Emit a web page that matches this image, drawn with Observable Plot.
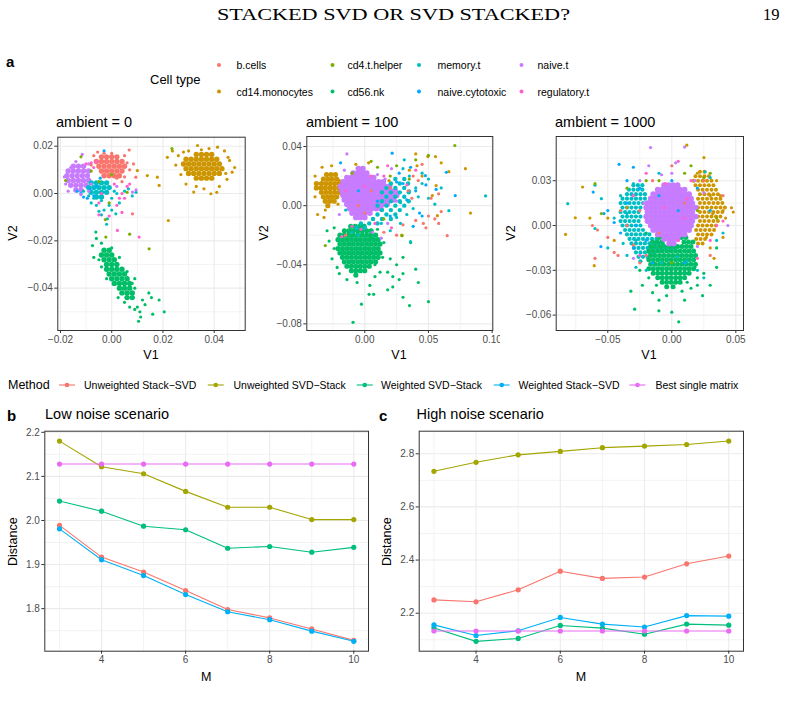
<!DOCTYPE html>
<html><head><meta charset="utf-8">
<script src="https://cdn.jsdelivr.net/npm/d3@7"></script>
<script src="https://cdn.jsdelivr.net/npm/@observablehq/plot@0.6"></script>
<style>
body{margin:0;background:#fff;}
#page{position:relative;width:788px;height:701px;overflow:hidden;background:#fff;}
</style></head><body><div id="page"></div>
<script>
// ---------- categories & colours ----------
const cellTypes = ["b.cells","cd14.monocytes","cd4.t.helper","cd56.nk","memory.t","naive.cytotoxic","naive.t","regulatory.t"];
const cellColors = ["#F8766D","#CD9600","#7CAE00","#00BE67","#00BFC4","#00A9FF","#C77CFF","#FF61CC"];
const methods = ["Unweighted Stack−SVD","Unweighted SVD−Stack","Weighted SVD−Stack","Weighted Stack−SVD","Best single matrix"];
const methodColors = ["#F8766D","#A3A500","#00BF7D","#00B0F6","#E76BF3"];
const panelTitles = ["ambient = 0","ambient = 100","ambient = 1000"];

// ---------- panel b / c values ----------
const M = [3,4,5,6,7,8,9,10];
const lowUnwStackSVD = [1.989,1.917,1.883,1.841,1.798,1.779,1.754,1.728];
const lowUnwSVDStack = [2.180,2.122,2.106,2.066,2.030,2.030,2.002,2.002];
const lowWSVDStack   = [2.044,2.021,1.987,1.979,1.937,1.941,1.928,1.939];
const lowWStackSVD   = [1.981,1.911,1.875,1.832,1.793,1.775,1.749,1.726];
const lowBest        = [2.128,2.128,2.128,2.128,2.128,2.128,2.128,2.128];
const highUnwStackSVD = [2.250,2.243,2.288,2.358,2.331,2.336,2.386,2.415];
const highUnwSVDStack = [2.734,2.768,2.796,2.809,2.823,2.829,2.835,2.848];
const highWSVDStack   = [2.144,2.094,2.105,2.154,2.144,2.121,2.159,2.155];
const highWStackSVD   = [2.156,2.116,2.134,2.184,2.159,2.148,2.191,2.189];
const highBest        = [2.133,2.133,2.133,2.133,2.133,2.133,2.133,2.133];

// ---------- tick labels ----------
const amb0XTicks = [-0.02,0,0.02,0.04], amb0XMinor = [-0.01,0.01,0.03,0.05];
const amb0YTicks = [0.02,0,-0.02,-0.04], amb0YMinor = [0.01,-0.01,-0.03,-0.05];
const amb100XTicks = [0,0.05,0.10], amb100XMinor = [-0.025,0.025,0.075];
const amb100YTicks = [0.04,0,-0.04,-0.08], amb100YMinor = [0.02,-0.02,-0.06];
const amb1000XTicks = [-0.05,0,0.05], amb1000XMinor = [-0.075,-0.025,0.025];
const amb1000YTicks = [0.03,0,-0.03,-0.06], amb1000YMinor = [0.045,0.015,-0.015,-0.045];
const mTicks = [4,6,8,10], mMinor = [3,5,7,9];
const lowYTicks = [1.8,1.9,2.0,2.1,2.2], lowYMinor = [1.75,1.85,1.95,2.05,2.15];
const highYTicks = [2.2,2.4,2.6,2.8], highYMinor = [2.1,2.3,2.5,2.7];

// ---------- scatter values ----------
// dense cloud cores, one row per V2 value: [cell type, V2, [V1 ...]]
const amb0CoreRows = [
 ["cd56.nk",-0.024,[-0.003,-0.001]],
 ["cd56.nk",-0.026,[-0.004,-0.002,0.000]],
 ["cd56.nk",-0.028,[-0.003,-0.001,0.001]],
 ["cd56.nk",-0.030,[-0.002,0.000,0.002]],
 ["cd56.nk",-0.032,[-0.002,0.000,0.002,0.004]],
 ["cd56.nk",-0.034,[-0.001,0.001,0.003,0.005]],
 ["cd56.nk",-0.036,[0.000,0.002,0.004,0.006]],
 ["cd56.nk",-0.038,[0.001,0.003,0.005,0.007]],
 ["cd56.nk",-0.040,[0.003,0.005,0.007]],
 ["cd56.nk",-0.042,[0.004,0.006,0.008]],
 ["cd56.nk",-0.044,[0.006,0.008]],
 ["cd14.monocytes",0.0165,[0.033,0.035,0.037,0.039]],
 ["cd14.monocytes",0.0145,[0.029,0.031,0.033,0.035,0.037,0.039,0.041]],
 ["cd14.monocytes",0.0125,[0.028,0.030,0.032,0.034,0.036,0.038,0.040,0.042]],
 ["cd14.monocytes",0.0105,[0.029,0.031,0.033,0.035,0.037,0.039,0.041,0.043]],
 ["cd14.monocytes",0.0085,[0.030,0.032,0.034,0.036,0.038,0.040,0.042]],
 ["cd14.monocytes",0.0065,[0.033,0.035,0.037,0.039]],
 ["naive.t",0.0115,[-0.015,-0.013,-0.011]],
 ["naive.t",0.0095,[-0.017,-0.015,-0.013,-0.011,-0.009]],
 ["naive.t",0.0075,[-0.0175,-0.0155,-0.0135,-0.0115,-0.0095]],
 ["naive.t",0.0055,[-0.017,-0.015,-0.013,-0.011,-0.009]],
 ["naive.t",0.0035,[-0.016,-0.014,-0.012,-0.010]],
 ["naive.t",0.0015,[-0.014,-0.012]],
 ["b.cells",0.0155,[-0.004,-0.002,0.000,0.002]],
 ["b.cells",0.0135,[-0.006,-0.004,-0.002,0.000,0.002,0.004]],
 ["b.cells",0.0115,[-0.005,-0.003,-0.001,0.001,0.003,0.005]],
 ["b.cells",0.0095,[-0.004,-0.002,0.000,0.002,0.004]],
 ["b.cells",0.0075,[-0.003,-0.001,0.001,0.003]],
 ["memory.t",0.0045,[-0.008,-0.006,-0.004,-0.002]],
 ["memory.t",0.0025,[-0.009,-0.007,-0.005,-0.003,-0.001]],
 ["memory.t",0.0005,[-0.008,-0.006,-0.004,-0.002]],
 ["memory.t",-0.0015,[-0.006,-0.004]]
];
// sparse points: [cell type, [[V1, V2] ...]]
const amb0Pts = [
 ["cd56.nk", [[-0.0062,-0.0163],[-0.0075,-0.022],[-0.006,-0.019],[-0.007,-0.027],[-0.004,-0.021],[0.0,-0.023],[0.003,-0.027],[0.006,-0.033],[0.009,-0.036],[0.009,-0.040],[0.0113,-0.0522],[0.010,-0.048],[0.012,-0.045],[0.0145,-0.042],[0.0155,-0.044],[0.0185,-0.045],[0.0205,-0.050],[0.016,-0.051],[0.011,-0.050],[0.009,-0.049],[0.007,-0.048],[0.0105,-0.054],[-0.002,-0.036],[-0.004,-0.031],[0.0025,-0.044],[0.005,-0.046],[0.013,-0.047],[-0.005,-0.028],[0.008,-0.038]]],
 ["cd14.monocytes", [[0.0217,0.0153],[0.0237,0.018],[0.048,0.011],[0.0139,0.0076],[0.0178,0.0069],[0.0185,0.0034],[0.010,0.0097],[0.0221,-0.0114],[0.032,0.0006],[0.0387,-0.0001],[0.0454,0.0153],[0.0413,0.0196],[0.0335,0.0203],[0.026,0.016],[0.027,0.008],[0.029,0.004],[0.036,0.002],[0.045,0.006],[0.046,0.014],[0.044,0.018],[0.038,0.019],[0.030,0.018],[0.025,0.012],[0.042,0.003],[0.033,0.003],[0.047,0.009],[0.041,0.0005],[0.028,0.0175],[0.0445,0.0085],[0.035,0.0185]]],
 ["memory.t", [[-0.0017,-0.0107],[0.0016,-0.0086],[-0.003,-0.007],[-0.006,-0.005],[-0.008,-0.004],[-0.004,-0.003],[0.0,-0.002],[0.002,0.000],[0.005,0.001],[0.008,-0.001],[0.0095,0.0005],[-0.001,-0.005],[-0.004,-0.009],[-0.002,-0.013],[0.0,-0.007],[0.003,-0.004],[-0.007,-0.002],[-0.009,-0.001],[-0.011,0.001],[0.001,0.001],[0.0065,0.002],[-0.005,-0.0075]]],
 ["naive.cytotoxic", [[-0.012,0.0],[-0.011,-0.0015],[-0.007,-0.001],[-0.0085,0.002],[-0.006,0.003],[-0.0045,0.0065],[-0.003,0.018],[-0.0095,-0.002],[-0.0135,0.001]]],
 ["naive.t", [[-0.0115,0.0165],[0.0081,0.0006],[0.0095,0.0015],[-0.018,0.004],[-0.017,0.001],[-0.009,0.0125],[-0.008,0.004],[-0.012,-0.0005],[-0.009,0.001],[-0.016,0.011],[0.002,0.003],[-0.0185,0.007],[-0.014,0.0135]]],
 ["b.cells", [[0.0068,0.0184],[0.0094,0.0069],[0.0081,-0.0086],[0.005,0.016],[-0.007,0.016],[0.006,0.013],[0.005,0.007],[0.004,0.005],[-0.003,0.017],[0.0,0.017],[0.007,0.010],[-0.008,0.012],[0.002,0.0065],[-0.0055,0.0175],[0.0085,0.0125]]],
 ["regulatory.t", [[-0.008,0.013],[-0.007,0.011],[-0.010,0.0125],[-0.006,0.0135],[0.003,-0.002],[0.004,0.000],[0.0022,-0.0156],[0.0107,-0.0184],[-0.005,-0.004],[-0.005,-0.009],[0.002,-0.005],[0.006,0.003],[0.001,0.004],[-0.004,0.0],[0.005,-0.002],[0.007,0.004],[-0.001,-0.0095],[0.004,-0.008]]],
 ["cd4.t.helper", [[-0.018,0.0055],[0.0146,-0.0234],[-0.0023,-0.0184],[-0.0025,-0.011],[-0.012,0.0155],[0.0235,0.019],[-0.005,0.005],[0.0,0.008],[-0.001,-0.004],[0.006,0.0005],[-0.008,0.0095],[0.007,-0.0172]]]
];
const amb100CoreRows = [
 ["cd56.nk",-0.014,[-0.011,-0.0075,-0.004,-0.0005]],
 ["cd56.nk",-0.017,[-0.016,-0.0125,-0.009,-0.0055,-0.002,0.0015,0.005]],
 ["cd56.nk",-0.020,[-0.0195,-0.016,-0.0125,-0.009,-0.0055,-0.002,0.0015,0.005,0.0085]],
 ["cd56.nk",-0.023,[-0.021,-0.0175,-0.014,-0.0105,-0.007,-0.0035,0.0,0.0035,0.007,0.0105]],
 ["cd56.nk",-0.026,[-0.0195,-0.016,-0.0125,-0.009,-0.0055,-0.002,0.0015,0.005,0.0085,0.012]],
 ["cd56.nk",-0.029,[-0.021,-0.0175,-0.014,-0.0105,-0.007,-0.0035,0.0,0.0035,0.007,0.0105]],
 ["cd56.nk",-0.032,[-0.0195,-0.016,-0.0125,-0.009,-0.0055,-0.002,0.0015,0.005,0.0085,0.012]],
 ["cd56.nk",-0.035,[-0.0175,-0.014,-0.0105,-0.007,-0.0035,0.0,0.0035,0.007,0.0105]],
 ["cd56.nk",-0.038,[-0.016,-0.0125,-0.009,-0.0055,-0.002,0.0015,0.005,0.0085]],
 ["cd56.nk",-0.041,[-0.014,-0.0105,-0.007,-0.0035,0.0,0.0035]],
 ["cd56.nk",-0.044,[-0.0105,-0.007,-0.0035,0.0]],
 ["cd56.nk",-0.047,[-0.007]],
 ["cd14.monocytes",0.021,[-0.030,-0.0265,-0.023]],
 ["cd14.monocytes",0.018,[-0.0325,-0.029,-0.0255,-0.022]],
 ["cd14.monocytes",0.015,[-0.038,-0.034,-0.0305,-0.027,-0.0235,-0.020]],
 ["cd14.monocytes",0.012,[-0.038,-0.0345,-0.031,-0.0275,-0.024,-0.0205]],
 ["cd14.monocytes",0.009,[-0.034,-0.0305,-0.027,-0.0235,-0.020]],
 ["cd14.monocytes",0.006,[-0.0325,-0.029,-0.0255,-0.022]],
 ["cd14.monocytes",0.003,[-0.031,-0.0275,-0.024]],
 ["cd14.monocytes",0.000,[-0.029]],
 ["naive.t",0.025,[-0.005,-0.0015]],
 ["naive.t",0.022,[-0.009,-0.0055,-0.002,0.0015]],
 ["naive.t",0.019,[-0.014,-0.0105,-0.007,-0.0035,0.0,0.0035,0.007]],
 ["naive.t",0.016,[-0.017,-0.0135,-0.010,-0.0065,-0.003,0.0005,0.004,0.0075,0.011,0.0145]],
 ["naive.t",0.013,[-0.019,-0.0155,-0.012,-0.0085,-0.005,-0.0015,0.002,0.0055,0.009,0.0125,0.016,0.0195]],
 ["naive.t",0.010,[-0.018,-0.0145,-0.011,-0.0075,-0.004,-0.0005,0.003,0.0065,0.010,0.0135,0.017,0.0205,0.024]],
 ["naive.t",0.007,[-0.017,-0.0135,-0.010,-0.0065,-0.003,0.0005,0.004,0.0075,0.011,0.0145,0.018,0.0215,0.025]],
 ["naive.t",0.004,[-0.016,-0.0125,-0.009,-0.0055,-0.002,0.0015,0.005,0.0085,0.012,0.0155,0.019,0.0225]],
 ["naive.t",0.001,[-0.014,-0.0105,-0.007,-0.0035,0.0,0.0035,0.007,0.0105,0.014,0.0175]],
 ["naive.t",-0.002,[-0.012,-0.0085,-0.005,-0.0015,0.002,0.0055,0.009,0.0125]],
 ["naive.t",-0.005,[-0.010,-0.0065,-0.003,0.0005,0.004]],
 ["naive.t",-0.008,[-0.007,-0.0035,0.0]],
 ["memory.t",0.018,[0.024,0.031]],
 ["memory.t",0.015,[0.0205,0.0275,0.034]],
 ["memory.t",0.012,[0.017,0.024,0.031]],
 ["memory.t",0.009,[0.0135,0.0205,0.0275,0.0345]],
 ["memory.t",0.006,[0.017,0.024,0.031]],
 ["memory.t",0.003,[0.0135,0.0205,0.0275,0.0345]],
 ["memory.t",0.000,[0.010,0.017,0.024,0.031]],
 ["memory.t",-0.003,[0.0135,0.0205,0.0275]],
 ["memory.t",-0.006,[0.010,0.017,0.024]],
 ["memory.t",-0.009,[0.0065,0.0135,0.0205]],
 ["memory.t",-0.012,[-0.003,0.0035,0.010]],
 ["memory.t",-0.015,[-0.0065,0.0]]
];
const amb100Pts = [
 ["cd56.nk", [[-0.0296,-0.017],[-0.0257,-0.036],[-0.0217,-0.0418],[-0.024,-0.029],[0.008,-0.040],[0.014,-0.035],[0.018,-0.045],[0.022,-0.048],[0.027,-0.050],[0.022,-0.055],[0.018,-0.057],[0.030,-0.046],[0.040,-0.043],[0.042,-0.052],[0.050,-0.065],[0.0351,-0.0676],[0.030,-0.062],[0.007,-0.060],[0.0034,-0.060],[-0.0026,-0.0667],[-0.0092,-0.079],[-0.006,-0.052],[0.004,-0.054],[0.008,-0.048],[0.012,-0.045],[0.020,-0.036],[0.015,-0.025],[0.030,-0.035],[-0.020,-0.046],[-0.014,-0.050],[0.010,-0.016],[-0.024,-0.015],[0.036,-0.025],[-0.028,-0.024],[0.005,-0.022],[0.025,-0.040]]],
 ["cd14.monocytes", [[-0.039,0.020],[-0.037,-0.006],[-0.0335,0.026],[-0.026,0.027],[-0.031,-0.003],[0.079,0.025],[0.083,-0.005],[0.040,0.035],[0.0495,0.0332],[0.0555,0.0332],[0.060,0.029],[0.066,0.023],[0.056,0.0136],[0.053,0.0068],[0.041,0.027],[0.057,-0.0068],[0.029,-0.020],[0.003,0.029],[-0.007,0.028],[0.019,0.017],[-0.020,0.017],[-0.039,0.006],[-0.032,-0.008],[-0.036,0.015],[-0.021,0.001],[0.045,0.020],[0.035,0.024]]],
 ["memory.t", [[0.0948,0.0066],[0.045,0.022],[0.050,0.018],[0.040,0.012],[0.035,0.020],[0.030,0.025],[0.050,0.005],[0.055,0.001],[0.038,-0.002],[0.033,-0.006],[0.042,0.006],[0.060,0.012],[0.066,-0.0034],[0.028,-0.012],[0.0359,-0.0244],[0.020,-0.017],[0.025,-0.008],[0.0,-0.015],[-0.010,-0.018],[-0.015,-0.003],[0.013,-0.012],[0.045,0.015],[0.031,0.031],[0.028,0.002],[0.024,0.018],[0.035,0.010],[-0.005,-0.020]]],
 ["naive.cytotoxic", [[0.0215,0.0355],[0.036,0.026],[0.0476,0.0203],[0.071,0.0068],[0.048,0.014],[0.040,0.010],[0.043,-0.005],[0.056,0.011],[0.064,0.0226],[0.030,0.015],[0.020,-0.007],[0.033,0.004],[-0.019,0.029],[-0.005,0.010],[0.010,0.003],[0.025,0.016],[0.038,-0.014],[0.045,-0.007],[0.027,0.022]]],
 ["b.cells", [[0.040,-0.010],[0.046,-0.012],[0.050,-0.007],[0.055,-0.009],[0.048,-0.015],[0.0647,-0.0203],[0.052,0.005],[0.058,0.008],[0.042,0.017],[0.045,0.028],[0.030,-0.013],[0.025,-0.020],[-0.005,0.000],[0.005,0.010],[0.020,0.012],[0.034,0.010],[0.060,-0.004],[0.037,0.005],[-0.015,-0.020],[0.000,-0.005],[0.015,-0.018],[0.058,-0.012],[0.038,0.020]]],
 ["regulatory.t", [[-0.015,0.010],[-0.010,-0.014],[0.000,0.013],[0.015,0.020],[0.021,-0.015],[0.008,-0.012],[0.033,0.014],[0.040,0.024],[-0.018,-0.021],[0.018,0.027],[0.005,0.020],[-0.003,-0.016]]],
 ["cd4.t.helper", [[0.0707,0.0407],[0.050,0.034],[0.005,0.030],[0.010,0.026],[0.0293,-0.0203],[-0.031,-0.027],[-0.010,0.022],[0.025,0.027],[0.040,0.031],[0.020,0.020],[0.015,-0.009],[0.035,0.018]]],
 ["naive.t", [[-0.014,0.035],[-0.016,0.024],[0.018,-0.012],[0.013,-0.022],[0.021,0.025],[0.025,0.003],[-0.020,-0.006],[0.010,0.021],[0.016,0.018],[0.006,-0.018]]]
];
const amb1000CoreRows = [
 ["memory.t",0.027,[-0.030,-0.0265,-0.023]],
 ["memory.t",0.024,[-0.0335,-0.030,-0.0265,-0.023]],
 ["memory.t",0.021,[-0.035,-0.0315,-0.028,-0.0245,-0.021]],
 ["memory.t",0.018,[-0.0385,-0.035,-0.0315,-0.028,-0.0245,-0.021]],
 ["memory.t",0.015,[-0.040,-0.0365,-0.033,-0.0295,-0.026,-0.0225]],
 ["memory.t",0.012,[-0.0385,-0.035,-0.0315,-0.028,-0.0245]],
 ["memory.t",0.009,[-0.040,-0.0365,-0.033,-0.0295,-0.026]],
 ["memory.t",0.006,[-0.0385,-0.035,-0.0315,-0.028,-0.0245]],
 ["memory.t",0.003,[-0.040,-0.0365,-0.033,-0.0295,-0.026]],
 ["memory.t",0.000,[-0.0385,-0.035,-0.0315,-0.028,-0.0245]],
 ["memory.t",-0.003,[-0.0365,-0.033,-0.0295,-0.026,-0.0225]],
 ["memory.t",-0.006,[-0.035,-0.0315,-0.028,-0.0245,-0.021,-0.0175]],
 ["memory.t",-0.009,[-0.033,-0.0295,-0.026,-0.0225,-0.019,-0.0155,-0.012]],
 ["memory.t",-0.012,[-0.0315,-0.028,-0.0245,-0.021,-0.0175,-0.014,-0.0105,-0.007]],
 ["memory.t",-0.015,[-0.0295,-0.026,-0.0225,-0.019,-0.0155,-0.012,-0.0085,-0.005,-0.0015,0.002]],
 ["memory.t",-0.018,[-0.028,-0.0245,-0.021,-0.0175,-0.014]],
 ["memory.t",-0.021,[-0.026,-0.0225,-0.019]],
 ["memory.t",-0.024,[-0.0245]],
 ["cd14.monocytes",0.036,[0.022,0.0255]],
 ["cd14.monocytes",0.033,[0.0185,0.022,0.0255,0.029]],
 ["cd14.monocytes",0.030,[0.017,0.0205,0.024,0.0275,0.031]],
 ["cd14.monocytes",0.027,[0.0185,0.022,0.0255,0.029,0.0325]],
 ["cd14.monocytes",0.024,[0.0205,0.024,0.0275,0.031,0.0345]],
 ["cd14.monocytes",0.021,[0.022,0.0255,0.029,0.0325,0.036]],
 ["cd14.monocytes",0.018,[0.0205,0.024,0.0275,0.031,0.0345,0.038]],
 ["cd14.monocytes",0.015,[0.022,0.0255,0.029,0.0325,0.036,0.0395]],
 ["cd14.monocytes",0.012,[0.0205,0.024,0.0275,0.031,0.0345,0.038,0.0415]],
 ["cd14.monocytes",0.009,[0.022,0.0255,0.029,0.0325,0.036,0.0395]],
 ["cd14.monocytes",0.006,[0.0205,0.024,0.0275,0.031,0.0345,0.038]],
 ["cd14.monocytes",0.003,[0.022,0.0255,0.029,0.0325,0.036]],
 ["cd14.monocytes",0.000,[0.0205,0.024,0.0275,0.031,0.0345]],
 ["cd14.monocytes",-0.003,[0.019,0.0225,0.026,0.0295,0.033]],
 ["cd14.monocytes",-0.006,[0.0205,0.024,0.0275,0.031]],
 ["cd14.monocytes",-0.009,[0.019,0.0225,0.026]],
 ["cd14.monocytes",-0.012,[0.0205,0.024]],
 ["cd56.nk",-0.008,[-0.010,-0.0065,0.004,0.0075,0.011]],
 ["cd56.nk",-0.011,[-0.015,-0.0115,-0.008,0.0095,0.013,0.0165]],
 ["cd56.nk",-0.014,[-0.0165,-0.013,-0.0095,-0.006,-0.0025,0.001,0.0045,0.008,0.0115,0.015]],
 ["cd56.nk",-0.017,[-0.018,-0.0145,-0.011,-0.0075,-0.004,-0.0005,0.003,0.0065,0.010,0.0135,0.017]],
 ["cd56.nk",-0.020,[-0.0165,-0.013,-0.0095,-0.006,-0.0025,0.001,0.0045,0.008,0.0115,0.015,0.0185]],
 ["cd56.nk",-0.023,[-0.018,-0.0145,-0.011,-0.0075,-0.004,-0.0005,0.003,0.0065,0.010,0.0135,0.017]],
 ["cd56.nk",-0.026,[-0.0165,-0.013,-0.0095,-0.006,-0.0025,0.001,0.0045,0.008,0.0115,0.015,0.0185]],
 ["cd56.nk",-0.029,[-0.018,-0.0145,-0.011,-0.0075,-0.004,-0.0005,0.003,0.0065,0.010,0.0135,0.017]],
 ["cd56.nk",-0.032,[-0.0145,-0.011,-0.0075,-0.004,-0.0005,0.003,0.0065,0.010,0.0135]],
 ["cd56.nk",-0.035,[-0.011,-0.0075,-0.004,-0.0005,0.003,0.0065,0.010]],
 ["cd56.nk",-0.038,[-0.0075,-0.004,-0.0005,0.003,0.0065]],
 ["cd56.nk",-0.041,[-0.004,0.001]],
 ["naive.t",0.027,[-0.006,-0.0025,0.001,0.0045]],
 ["naive.t",0.024,[-0.011,-0.0075,-0.004,-0.0005,0.003,0.0065,0.010]],
 ["naive.t",0.021,[-0.0145,-0.011,-0.0075,-0.004,-0.0005,0.003,0.0065,0.010,0.0135]],
 ["naive.t",0.018,[-0.0165,-0.013,-0.0095,-0.006,-0.0025,0.001,0.0045,0.008,0.0115,0.015]],
 ["naive.t",0.015,[-0.019,-0.0155,-0.012,-0.0085,-0.005,-0.0015,0.002,0.0055,0.009,0.0125,0.016]],
 ["naive.t",0.012,[-0.020,-0.0165,-0.013,-0.0095,-0.006,-0.0025,0.001,0.0045,0.008,0.0115,0.015,0.0185]],
 ["naive.t",0.009,[-0.019,-0.0155,-0.012,-0.0085,-0.005,-0.0015,0.002,0.0055,0.009,0.0125,0.016]],
 ["naive.t",0.006,[-0.020,-0.0165,-0.013,-0.0095,-0.006,-0.0025,0.001,0.0045,0.008,0.0115,0.015,0.0185]],
 ["naive.t",0.003,[-0.019,-0.0155,-0.012,-0.0085,-0.005,-0.0015,0.002,0.0055,0.009,0.0125,0.016]],
 ["naive.t",0.000,[-0.0165,-0.013,-0.0095,-0.006,-0.0025,0.001,0.0045,0.008,0.0115,0.015]],
 ["naive.t",-0.003,[-0.0145,-0.011,-0.0075,-0.004,-0.0005,0.003,0.0065,0.010,0.0135]],
 ["naive.t",-0.006,[-0.011,-0.0075,-0.004,-0.0005,0.003,0.0065,0.010]],
 ["naive.t",-0.009,[-0.006,-0.0025,0.001,0.0045]],
 ["naive.t",-0.012,[-0.002,0.0015]]
];
const amb1000Pts = [
 ["cd56.nk", [[-0.029,-0.056],[-0.032,-0.044],[-0.023,-0.040],[-0.015,-0.045],[-0.010,-0.050],[-0.0101,-0.0571],[0.0,-0.058],[0.0054,-0.0645],[0.010,-0.050],[0.015,-0.042],[0.020,-0.035],[0.025,-0.032],[0.030,-0.040],[0.024,-0.047],[0.035,-0.028],[0.020,-0.040],[-0.018,-0.035],[-0.025,-0.030],[0.018,-0.028],[-0.004,-0.047],[0.008,-0.044],[0.035,-0.015],[-0.020,-0.005],[0.012,-0.038],[-0.012,-0.040]]],
 ["cd14.monocytes", [[-0.083,-0.006],[-0.0697,0.0258],[-0.0754,0.0052],[-0.0606,-0.0269],[-0.064,0.005],[0.0466,0.0119],[0.048,0.009],[0.040,-0.008],[0.035,0.030],[0.0251,0.0455],[0.0117,0.0538],[0.038,0.020],[0.042,0.005],[0.030,-0.015],[0.033,-0.022],[0.036,0.015],[-0.035,0.012],[-0.050,0.005],[-0.045,-0.010],[0.020,0.035],[0.030,0.020],[0.040,0.010],[0.032,0.008],[0.027,-0.008]]],
 ["memory.t", [[-0.0813,0.0146],[-0.060,0.027],[-0.055,0.018],[-0.060,-0.002],[-0.050,-0.015],[-0.045,0.005],[-0.040,0.020],[-0.035,-0.020],[-0.030,0.028],[-0.028,-0.028],[-0.020,-0.030],[0.020,-0.030],[0.025,-0.035],[0.030,0.032],[0.035,-0.010],[0.040,-0.005],[-0.038,-0.012],[0.026,0.036],[-0.010,0.035],[-0.035,0.008],[-0.028,-0.010],[0.004,-0.021],[-0.008,-0.025],[0.012,-0.024]]],
 ["naive.cytotoxic", [[-0.0412,0.041],[-0.030,0.039],[-0.0614,0.0224],[-0.053,0.008],[-0.0554,-0.0141],[-0.050,0.010],[-0.045,0.002],[-0.035,0.015],[-0.040,-0.005],[-0.030,-0.015],[-0.025,0.025],[0.0,0.030],[0.020,0.025],[0.010,-0.025],[-0.015,-0.025],[-0.020,-0.010],[-0.035,0.030],[0.030,0.010],[-0.028,0.000],[-0.010,0.020],[0.005,0.010]]],
 ["b.cells", [[-0.060,-0.022],[-0.062,0.0],[-0.058,-0.003],[-0.050,-0.008],[-0.045,-0.018],[-0.042,-0.020],[-0.040,0.010],[-0.035,0.0],[-0.030,-0.013],[-0.025,-0.025],[-0.015,0.030],[0.0,0.040],[0.025,0.030],[0.030,-0.020],[0.040,0.020],[-0.025,0.010],[0.010,0.015],[-0.010,-0.005],[-0.020,-0.020]]],
 ["regulatory.t", [[0.005,0.043],[-0.020,0.035],[0.015,0.030],[0.035,0.000],[0.030,-0.010],[-0.025,-0.020],[0.020,-0.022],[-0.005,0.028],[0.010,0.005],[0.005,-0.010],[0.040,0.003],[-0.030,0.020],[-0.006,0.012],[0.012,0.018]]],
 ["cd4.t.helper", [[-0.060,0.028],[0.015,0.040],[0.025,0.032],[0.030,0.035],[-0.020,0.030],[0.0,-0.025],[0.020,0.010],[-0.035,0.025],[0.035,0.005],[-0.055,0.008],[0.010,0.035],[-0.010,0.030]]],
 ["naive.t", [[-0.0166,0.0522],[0.010,0.0525],[0.003,0.042],[-0.018,0.040],[-0.025,0.030],[0.018,0.030],[0.025,0.022],[-0.022,0.015],[0.0438,0.0],[0.020,-0.014],[-0.030,-0.022],[0.0,0.035],[-0.008,0.034]]]
];

// ---------- helpers ----------
const SANS = "'Liberation Sans', Arial, Helvetica, sans-serif";
const SERIF = "'Liberation Serif', 'DejaVu Serif', serif";
const page = document.getElementById("page");
function place(node, left, top){ node.style.position="absolute"; node.style.left=left+"px"; node.style.top=top+"px"; page.appendChild(node); }
const flatRows = rows => rows.flatMap(([t, y, xs]) => xs.map(x => ({t, x, y})));
const flatPts = arr => arr.flatMap(([t, ps]) => ps.map(([x, y]) => ({t, x, y})));
const fmt2 = d => (d < 0 ? "−" : "") + Math.abs(d).toFixed(2);
const fmt1 = d => d.toFixed(1);
const GRID = "#EBEBEB";

function scatter(o){
  const core = flatRows(o.core);
  const coreMarks = o.layers.map(([t, r]) => Plot.dot(core.filter(d => d.t === t), {x: "x", y: "y", r, fill: "t", clip: true}));
  return Plot.plot({
    width: o.width, height: o.height,
    marginLeft: o.mL, marginTop: o.mT, marginRight: o.mR, marginBottom: o.mB,
    x: {domain: o.xDom}, y: {domain: o.yDom},
    color: {domain: cellTypes, range: cellColors},
    style: {fontFamily: SANS, fontSize: "10px", background: o.bg || "transparent", overflow: "visible"},
    marks: [
      Plot.ruleX(o.xMinor, {stroke: GRID, strokeWidth: 0.6}),
      Plot.ruleY(o.yMinor, {stroke: GRID, strokeWidth: 0.6}),
      Plot.ruleX(o.xTicks, {stroke: GRID, strokeWidth: 1.1}),
      Plot.ruleY(o.yTicks, {stroke: GRID, strokeWidth: 1.1}),
      ...coreMarks,
      Plot.dot(flatPts(o.pts), {x: "x", y: "y", r: 1.6, fill: "t", clip: true}),
      Plot.frame({stroke: "#333333", strokeWidth: 1}),
      Plot.axisX({ticks: o.xTicks, tickSize: 3, tickPadding: 2, tickFormat: fmt2, stroke: "#333333", fill: "#4D4D4D", fontSize: 10, label: null}),
      Plot.axisY({ticks: o.yTicks, tickSize: 3, tickPadding: 2, tickFormat: fmt2, stroke: "#333333", fill: "#4D4D4D", fontSize: 10, label: null})
    ]
  });
}

function lines(o){
  const rows = o.series.flatMap((vals, i) => vals.map((v, j) => ({M: M[j], v, method: methods[i]})));
  return Plot.plot({
    width: o.width, height: o.height,
    marginLeft: o.mL, marginTop: o.mT, marginRight: o.mR, marginBottom: o.mB,
    x: {domain: [2.65, 10.35]}, y: {domain: o.yDom},
    color: {domain: methods, range: methodColors},
    style: {fontFamily: SANS, fontSize: "10px", background: "transparent", overflow: "visible"},
    marks: [
      Plot.ruleX(mMinor, {stroke: GRID, strokeWidth: 0.6}),
      Plot.ruleY(o.yMinor, {stroke: GRID, strokeWidth: 0.6}),
      Plot.ruleX(mTicks, {stroke: GRID, strokeWidth: 1.1}),
      Plot.ruleY(o.yTicks, {stroke: GRID, strokeWidth: 1.1}),
      Plot.line(rows, {x: "M", y: "v", z: "method", stroke: "method", strokeWidth: 1.1}),
      Plot.dot(rows, {x: "M", y: "v", fill: "method", r: 2.6}),
      Plot.frame({stroke: "#333333", strokeWidth: 1}),
      Plot.axisX({ticks: mTicks, tickSize: 3, tickPadding: 2, tickFormat: d => String(d), stroke: "#333333", fill: "#4D4D4D", fontSize: 10, label: null}),
      Plot.axisY({ticks: o.yTicks, tickSize: 3, tickPadding: 2, tickFormat: fmt1, stroke: "#333333", fill: "#4D4D4D", fontSize: 10, label: null})
    ]
  });
}

// ---------- panel a ----------
place(scatter({core: amb0CoreRows, pts: amb0Pts,
  layers: [["cd56.nk",2.7],["cd14.monocytes",2.7],["naive.t",2.7],["b.cells",2.7],["memory.t",2.7]],
  xDom: [-0.02105, 0.0521], yDom: [-0.0579, 0.0238],
  xTicks: amb0XTicks, xMinor: amb0XMinor, yTicks: amb0YTicks, yMinor: amb0YMinor,
  width: 250, height: 240, mL: 57.3, mT: 8.7, mR: 5.3, mB: 38}), 0, 128);
place(scatter({core: amb100CoreRows, pts: amb100Pts,
  layers: [["cd56.nk",2.6],["cd14.monocytes",2.6],["naive.t",2.9],["memory.t",2.2]],
  xDom: [-0.0455, 0.1005], yDom: [-0.0845, 0.0468],
  xTicks: amb100XTicks, xMinor: amb100XMinor, yTicks: amb100YTicks, yMinor: amb100YMinor,
  width: 245, height: 240, mL: 51.3, mT: 8, mR: 7.7, mB: 38}), 255, 128);
place(scatter({core: amb1000CoreRows, pts: amb1000Pts,
  layers: [["memory.t",2.1],["cd14.monocytes",2.0],["cd56.nk",2.5],["naive.t",2.9]],
  xDom: [-0.0903, 0.056], yDom: [-0.0703, 0.0596],
  xTicks: amb1000XTicks, xMinor: amb1000XMinor, yTicks: amb1000YTicks, yMinor: amb1000YMinor,
  width: 288, height: 240, mL: 55.7, mT: 8, mR: 45, mB: 38, bg: "white"}), 500, 128);

// ---------- panels b, c ----------
place(lines({series: [lowUnwStackSVD, lowUnwSVDStack, lowWSVDStack, lowWStackSVD, lowBest],
  yDom: [1.7035, 2.2025], yTicks: lowYTicks, yMinor: lowYMinor,
  width: 375, height: 277, mL: 44.3, mT: 6.7, mR: 7, mB: 50.3}), 0, 424);
place(lines({series: [highUnwStackSVD, highUnwSVDStack, highWSVDStack, highWStackSVD, highBest],
  yDom: [2.057, 2.885], yTicks: highYTicks, yMinor: highYMinor,
  width: 413, height: 277, mL: 43.7, mT: 6.7, mR: 45, mB: 50.3}), 375, 424);

// ---------- text overlay ----------
const ov = d3.create("svg").attr("width", 788).attr("height", 701)
  .style("position", "absolute").style("left", "0px").style("top", "0px").style("pointer-events", "none");
function T(s, x, y, o = {}){
  const t = ov.append("text").attr("x", x).attr("y", y)
    .attr("font-family", o.family || SANS).attr("font-size", o.size || 10)
    .attr("fill", o.fill || "#000").attr("text-anchor", o.anchor || "start")
    .attr("dominant-baseline", o.base || "central").text(s);
  if (o.weight) t.attr("font-weight", o.weight);
  if (o.rotate) t.attr("transform", `rotate(${o.rotate},${x},${y})`);
  if (o.len) t.attr("textLength", o.len).attr("lengthAdjust", "spacingAndGlyphs");
  return t;
}
T("STACKED SVD OR SVD STACKED?", 217, 19.5, {family: SERIF, size: 16, base: "alphabetic", len: 353});
T("19", 763, 19.5, {family: SERIF, size: 16.5, base: "alphabetic"});

T("a", 6, 61, {size: 15, weight: "bold"});
T("Cell type", 150, 79, {size: 13});
const ctDotX = [219, 332.5, 419, 521.5], ctTextX = [236.5, 347.5, 437.5, 537.5], ctRowY = [65, 91.5];
cellTypes.forEach((c, i) => {
  const col = Math.floor(i / 2), row = i % 2;
  ov.append("circle").attr("cx", ctDotX[col]).attr("cy", ctRowY[row]).attr("r", 2).attr("fill", cellColors[i]);
  T(c, ctTextX[col], ctRowY[row], {size: 10.5});
});
const titleX = [56, 306, 555];
panelTitles.forEach((t, i) => T(t, titleX[i], 122, {size: 14.5}));
[13, 264, 511].forEach(x => T("V2", x, 233, {size: 12.5, anchor: "middle", rotate: -90}));
[151, 399, 649].forEach(x => T("V1", x, 355, {size: 12.5, anchor: "middle"}));

T("Method", 8, 385, {size: 12.5});
const mSymX = [67, 215.75, 364.75, 501.75, 637.5], mTextX = [84, 233.5, 381, 518.5, 655.5];
methods.forEach((m, i) => {
  ov.append("line").attr("x1", mSymX[i] - 8).attr("x2", mSymX[i] + 8).attr("y1", 385).attr("y2", 385)
    .attr("stroke", methodColors[i]).attr("stroke-width", 1.1);
  ov.append("circle").attr("cx", mSymX[i]).attr("cy", 385).attr("r", 2.3).attr("fill", methodColors[i]);
  T(m, mTextX[i], 385, {size: 10.5});
});

T("b", 7, 415, {size: 15, weight: "bold"});
T("Low noise scenario", 45, 414, {size: 14.5});
T("c", 379, 415, {size: 15, weight: "bold"});
T("High noise scenario", 416.5, 414, {size: 14.5});
T("Distance", 13.3, 541.7, {size: 12.5, anchor: "middle", rotate: -90});
T("Distance", 387.3, 541.7, {size: 12.5, anchor: "middle", rotate: -90});
T("M", 206.2, 677, {size: 12.5, anchor: "middle"});
T("M", 580.9, 677, {size: 12.5, anchor: "middle"});

page.appendChild(ov.node());
</script></body></html>
